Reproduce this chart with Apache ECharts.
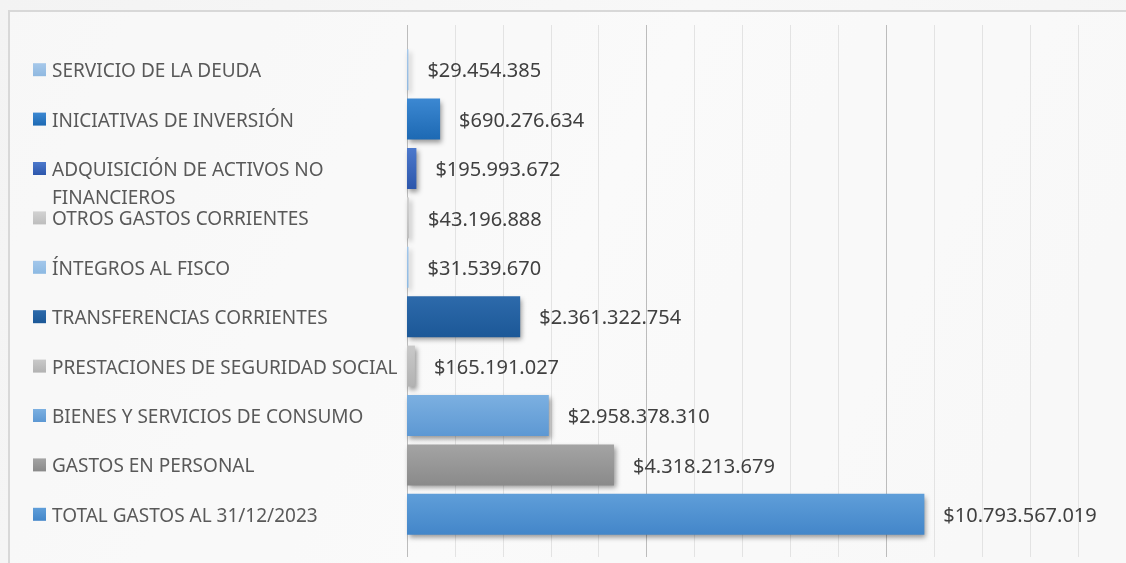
<!DOCTYPE html>
<html lang="es">

<head>
    <meta charset="UTF-8">
    <title>Gastos al 31/12/2023</title>
    <script src="https://cdn.jsdelivr.net/npm/echarts@6/dist/echarts.min.js"></script>
    <style>
        * {
            padding: 0;
            margin: 0;
        }
    </style>
</head>

<body>
    <div id="chart" style="width: 1126px;height:563px;"></div>
    <script type="text/javascript">
        // categorias de arriba hacia abajo
        var categories = [
            'SERVICIO DE LA DEUDA',
            'INICIATIVAS DE INVERSIÓN',
            'ADQUISICIÓN DE ACTIVOS NO FINANCIEROS',
            'OTROS GASTOS CORRIENTES',
            'ÍNTEGROS AL FISCO',
            'TRANSFERENCIAS CORRIENTES',
            'PRESTACIONES DE SEGURIDAD SOCIAL',
            'BIENES Y SERVICIOS DE CONSUMO',
            'GASTOS EN PERSONAL',
            'TOTAL GASTOS AL 31/12/2023'
        ];
        var values = [29454385, 690276634, 195993672, 43196888, 31539670,
            2361322754, 165191027, 2958378310, 4318213679, 10793567019];

        // colores de cada barra (arriba, abajo del degradado)
        var topColors = ['#a6c8ea', '#3c88d2', '#4d79cc', '#d2d2d2', '#a3c7eb',
            '#2d6aab', '#c9c9c9', '#7cb0e1', '#a4a4a4', '#5f9ed9'];
        var bottomColors = ['#8fb8e0', '#1d69b3', '#2c56ab', '#bdbdbd', '#8cb9e2',
            '#1c5897', '#b2b2b2', '#5d98d3', '#8a8a8a', '#4386c9'];

        var myChart = echarts.init(document.getElementById('chart'));

        function money(v) {
            return '$' + String(v).replace(/\B(?=(\d{3})+(?!\d))/g, '.');
        }

        var rich = {
            t: { fontSize: 19, color: '#595959', fontFamily: 'Noto Sans', lineHeight: 28, padding: [4, 0, 0, 6] },
            ind: { width: 13, height: 13, lineHeight: 28 }
        };
        for (var i = 0; i < categories.length; i++) {
            rich['sq' + i] = {
                width: 13, height: 13, lineHeight: 28,
                backgroundColor: {
                    type: 'linear', x: 0, y: 0, x2: 0, y2: 1,
                    colorStops: [{ offset: 0, color: topColors[i] }, { offset: 1, color: bottomColors[i] }]
                }
            };
        }

        var barData = [];
        for (var i = 0; i < values.length; i++) {
            barData.push({
                value: values[i],
                itemStyle: {
                    color: {
                        type: 'linear', x: 0, y: 0, x2: 0, y2: 1,
                        colorStops: [{ offset: 0, color: topColors[i] }, { offset: 1, color: bottomColors[i] }]
                    }
                }
            });
        }

        option = {
            backgroundColor: {
                type: 'linear', x: 0, y: 0, x2: 1, y2: 1,
                colorStops: [{ offset: 0, color: '#f3f3f3' }, { offset: 0.5, color: '#f8f8f8' }, { offset: 1, color: '#f4f4f4' }]
            },
            animation: false,
            graphic: [{
                type: 'rect',
                left: 8, top: 10,
                shape: { width: 1140, height: 570 },
                style: { fill: 'rgba(252,252,252,0.5)', stroke: '#d8d8d8', lineWidth: 2 },
                z: -1
            }],
            grid: [
                // solo lineas de division
                { left: 407, right: 0, top: 25, bottom: 6, outerBoundsMode: 'none', containLabel: false },
                // barras
                { left: 407, right: 0, top: 45, bottom: 24, outerBoundsMode: 'none', containLabel: false }
            ],
            xAxis: [{
                gridIndex: 0, type: 'value', min: 0, max: 15000000000, interval: 1000000000,
                axisLine: { show: false }, axisTick: { show: false }, axisLabel: { show: false },
                splitLine: { lineStyle: { color: ['#bcbcbc', '#e3e3e3', '#e3e3e3', '#e3e3e3', '#e3e3e3'], width: 1 } }
            }, {
                gridIndex: 1, type: 'value', min: 0, max: 15000000000,
                axisLine: { show: false }, axisTick: { show: false }, axisLabel: { show: false },
                splitLine: { show: false }
            }],
            yAxis: [{
                gridIndex: 0, type: 'category', data: categories, show: false
            }, {
                gridIndex: 1, type: 'category', data: categories, inverse: true,
                axisLine: { show: false }, axisTick: { show: false },
                axisLabel: {
                    interval: 0,
                    align: 'left',
                    margin: 374,
                    formatter: function (name, idx) {
                        if (name.indexOf('ADQUISICIÓN') === 0) {
                            return '{ind|}\n{sq' + idx + '|}{t|ADQUISICIÓN DE ACTIVOS NO}\n{ind|}{t|FINANCIEROS}';
                        }
                        return '{sq' + idx + '|}{t|' + name + '}';
                    },
                    rich: rich
                }
            }],
            series: [{
                type: 'bar',
                xAxisIndex: 1,
                yAxisIndex: 1,
                barWidth: 41,
                data: barData,
                itemStyle: {
                    shadowBlur: 5,
                    shadowOffsetX: 2,
                    shadowOffsetY: 3,
                    shadowColor: 'rgba(0,0,0,0.4)'
                },
                label: {
                    show: true,
                    position: 'right',
                    distance: 19,
                    offset: [0, 2],
                    fontSize: 20,
                    fontFamily: 'Noto Sans',
                    color: '#404040',
                    formatter: function (p) { return money(p.value); }
                }
            }]
        };

        myChart.setOption(option);
    </script>
</body>

</html>
